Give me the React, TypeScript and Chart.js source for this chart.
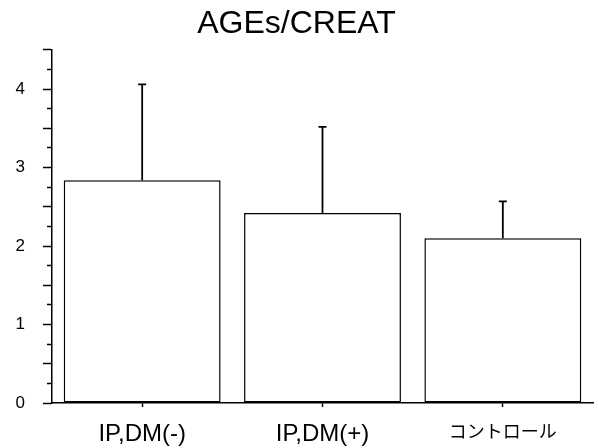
import React, { useEffect, useRef } from "react";
import { Chart, registerables } from "chart.js";

Chart.register(...registerables);

const categories = ["IP,DM(-)", "IP,DM(+)", "コントロール"];
const means = [2.84, 2.42, 2.1];
const sdUpper = [1.22, 1.1, 0.47];
const yMin = 0;
const yMax = 4.5;
const yStep = 0.25;

const errorBarPlugin = {
  id: "errorBars",
  afterDatasetsDraw(chart: any) {
    const ctx = chart.ctx;
    const yScale = chart.scales.y;
    const meta = chart.getDatasetMeta(0);
    ctx.save();
    ctx.strokeStyle = "#000";
    ctx.lineWidth = 1.8;
    meta.data.forEach((bar: any, i: number) => {
      const x = bar.x;
      const yTop = yScale.getPixelForValue(means[i] + sdUpper[i]);
      const yBase = bar.y;
      ctx.beginPath();
      ctx.moveTo(x, yBase);
      ctx.lineTo(x, yTop);
      ctx.moveTo(x - 4, yTop);
      ctx.lineTo(x + 4, yTop);
      ctx.stroke();
    });
    ctx.restore();
  },
};

export default function App() {
  const ref = useRef<HTMLCanvasElement>(null);
  useEffect(() => {
    if (!ref.current) return;
    const chart = new Chart(ref.current, {
      type: "bar",
      data: {
        labels: categories,
        datasets: [
          {
            data: means,
            backgroundColor: "#ffffff",
            borderColor: "#000000",
            borderWidth: 1.5,
            borderSkipped: false,
            barPercentage: 0.87,
            categoryPercentage: 1.0,
          },
        ],
      },
      options: {
        responsive: false,
        animation: false,
        layout: { padding: { left: 0, right: 5, top: 0, bottom: 0 } },
        plugins: {
          legend: { display: false },
          tooltip: { enabled: false },
          title: {
            display: true,
            text: "AGEs/CREAT",
            color: "#000",
            font: { family: "'Liberation Sans', Arial", size: 32, weight: "normal" },
            padding: { top: 5, bottom: 6.5 },
          },
        },
        scales: {
          x: {
            afterFit: (scale: any) => {
              scale.height = 45;
            },
            grid: {
              offset: false,
              drawOnChartArea: false,
              drawTicks: true,
              tickLength: 4,
              tickColor: "#000",
              tickWidth: 1.5,
            },
            border: { display: true, color: "#000", width: 1.5 },
            ticks: {
              color: "#000",
              maxRotation: 0,
              autoSkip: false,
              padding: 13,
              font: (ctx: any) =>
                ctx.index === 2
                  ? { family: "'Noto Sans CJK JP', sans-serif", size: 18 }
                  : { family: "'Liberation Sans', Arial", size: 24 },
            },
          },
          y: {
            min: yMin,
            max: yMax,
            afterFit: (scale: any) => {
              scale.width = 52;
            },
            grid: {
              drawOnChartArea: false,
              drawTicks: true,
              tickLength: 9,
              tickColor: "#000",
              tickWidth: 1.5,
              tickBorderDash: (ctx: any) =>
                ctx.tick && Number.isInteger(ctx.tick.value * 2) ? [] : [0, 4, 5, 10],
            },
            border: { display: true, color: "#000", width: 1.5 },
            ticks: {
              stepSize: yStep,
              autoSkip: false,
              color: "#000",
              padding: 18,
              font: { family: "'Liberation Sans', Arial", size: 17 },
              callback: (v: any) => (Number.isInteger(v) ? String(v) : ""),
            },
          },
        },
      },
      plugins: [errorBarPlugin],
    });
    return () => chart.destroy();
  }, []);
  return (
    <div style={{ position: "fixed", left: 0, top: 0, width: 598, height: 448, background: "#fff" }}>
      <canvas ref={ref} width={598} height={448} style={{ display: "block" }} />
    </div>
  );
}
